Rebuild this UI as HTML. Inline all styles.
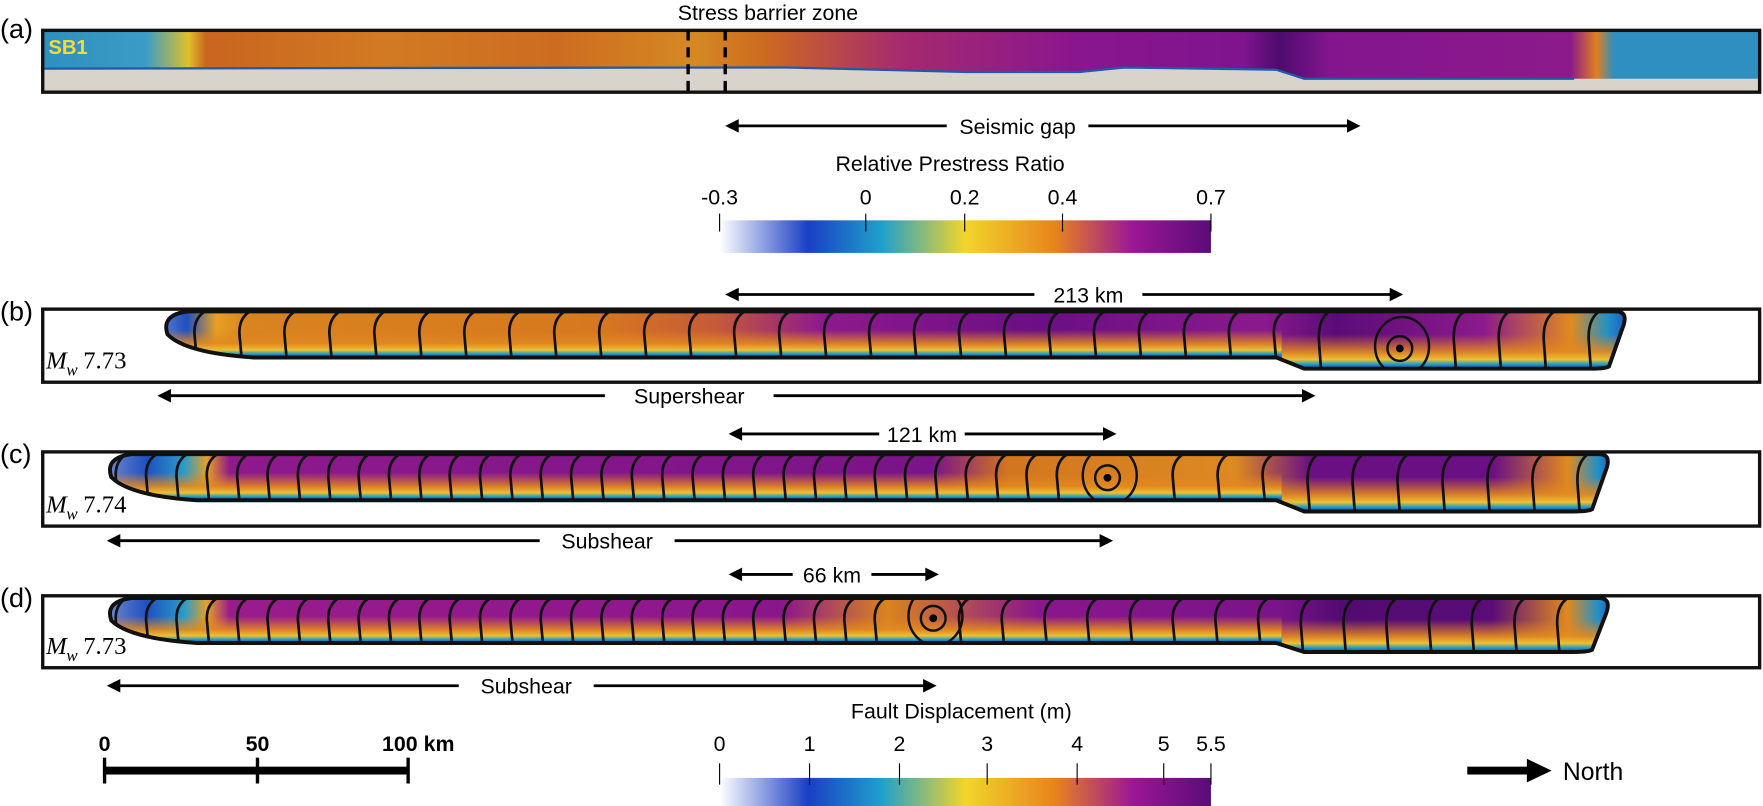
<!DOCTYPE html>
<html><head><meta charset="utf-8">
<style>
html,body{margin:0;padding:0;background:#fff;}
svg{display:block;}
text{font-family:"Liberation Sans",sans-serif;fill:#000;}
</style></head>
<body>
<svg id="s" width="1763" height="806" viewBox="0 0 1568 717" preserveAspectRatio="none" xmlns="http://www.w3.org/2000/svg">
<defs>
<linearGradient id="cbar" x1="0" x2="1" y1="0" y2="0">
<stop offset="0" stop-color="#ffffff"/>
<stop offset="0.18" stop-color="#1a3fc4"/>
<stop offset="0.33" stop-color="#1fa0cc"/>
<stop offset="0.5" stop-color="#f2d52a"/>
<stop offset="0.68" stop-color="#e8851c"/>
<stop offset="0.84" stop-color="#9c1795"/>
<stop offset="1" stop-color="#5a0c78"/>
</linearGradient>
<linearGradient id="ga" gradientUnits="userSpaceOnUse" x1="38" x2="1565" y1="0" y2="0">
<stop offset="0" stop-color="#2f8fbf"/>
<stop offset="0.06" stop-color="#3a9cc6"/>
<stop offset="0.085" stop-color="#e0c02a"/>
<stop offset="0.095" stop-color="#c9651f"/>
<stop offset="0.2" stop-color="#d27a22"/>
<stop offset="0.3" stop-color="#cd6c20"/>
<stop offset="0.38" stop-color="#d58922"/>
<stop offset="0.42" stop-color="#cd6a20"/>
<stop offset="0.5" stop-color="#a62a6e"/>
<stop offset="0.6" stop-color="#8a168e"/>
<stop offset="0.7" stop-color="#7f148f"/>
<stop offset="0.72" stop-color="#4e0b6e"/>
<stop offset="0.75" stop-color="#84158f"/>
<stop offset="0.89" stop-color="#8c1a8a"/>
<stop offset="0.905" stop-color="#e08020"/>
<stop offset="0.915" stop-color="#2f8fbf"/>
<stop offset="1" stop-color="#2f8fbf"/>
</linearGradient>
<linearGradient id="gb" gradientUnits="userSpaceOnUse" x1="140" x2="1450" y1="0" y2="0">
<stop offset="0" stop-color="#6a80d0"/>
<stop offset="0.02" stop-color="#1e50c0"/>
<stop offset="0.04" stop-color="#e8a024"/>
<stop offset="0.06" stop-color="#d8841f"/>
<stop offset="0.3" stop-color="#d6781f"/>
<stop offset="0.38" stop-color="#c45a3a"/>
<stop offset="0.45" stop-color="#8e1a8c"/>
<stop offset="0.6" stop-color="#6a0f84"/>
<stop offset="0.75" stop-color="#8a1a8c"/>
<stop offset="0.8" stop-color="#5a0c78"/>
<stop offset="0.9" stop-color="#8c1a8c"/>
<stop offset="0.96" stop-color="#e08a20"/>
<stop offset="0.985" stop-color="#2090c8"/>
<stop offset="1" stop-color="#2050c0"/>
</linearGradient>
<linearGradient id="gc" gradientUnits="userSpaceOnUse" x1="90" x2="1435" y1="0" y2="0">
<stop offset="0" stop-color="#8090d0"/>
<stop offset="0.03" stop-color="#1e50c0"/>
<stop offset="0.055" stop-color="#2a9cc8"/>
<stop offset="0.07" stop-color="#e8a024"/>
<stop offset="0.085" stop-color="#8e1a8c"/>
<stop offset="0.55" stop-color="#7a1488"/>
<stop offset="0.6" stop-color="#d2761f"/>
<stop offset="0.75" stop-color="#dc8a22"/>
<stop offset="0.8" stop-color="#6a0f84"/>
<stop offset="0.92" stop-color="#6a0f84"/>
<stop offset="0.97" stop-color="#e08a20"/>
<stop offset="0.99" stop-color="#2090c8"/>
<stop offset="1" stop-color="#2050c0"/>
</linearGradient>
<linearGradient id="gd" gradientUnits="userSpaceOnUse" x1="90" x2="1435" y1="0" y2="0">
<stop offset="0" stop-color="#8090d0"/>
<stop offset="0.03" stop-color="#1e50c0"/>
<stop offset="0.055" stop-color="#2a9cc8"/>
<stop offset="0.07" stop-color="#e8a024"/>
<stop offset="0.085" stop-color="#9a1c8c"/>
<stop offset="0.45" stop-color="#8a168c"/>
<stop offset="0.52" stop-color="#d8841f"/>
<stop offset="0.62" stop-color="#8a168c"/>
<stop offset="0.78" stop-color="#7a1488"/>
<stop offset="0.82" stop-color="#520b72"/>
<stop offset="0.92" stop-color="#5a0c78"/>
<stop offset="0.97" stop-color="#e08a20"/>
<stop offset="0.99" stop-color="#2090c8"/>
<stop offset="1" stop-color="#2050c0"/>
</linearGradient>
<linearGradient id="bot" x1="0" x2="0" y1="0" y2="1">
<stop offset="0" stop-color="#e08020" stop-opacity="0"/>
<stop offset="0.4" stop-color="#e08020" stop-opacity="0"/>
<stop offset="0.7" stop-color="#e28a20" stop-opacity="0.9"/>
<stop offset="0.84" stop-color="#f0c030"/>
<stop offset="0.92" stop-color="#20a0c8"/>
<stop offset="1" stop-color="#1a40b0"/>
</linearGradient>
</defs>
<g id="g"></g>
</svg>
<script>
var NS="http://www.w3.org/2000/svg",G=document.getElementById('g');
function el(t,a,txt,par){var e=document.createElementNS(NS,t);for(var k in a)e.setAttribute(k,a[k]);if(txt!==undefined&&txt!==null)e.textContent=txt;(par||G).appendChild(e);return e;}
function tx(x,y,s,size,anchor,extra){var a={x:x,y:y,'font-size':size||19,'text-anchor':anchor||'middle'};for(var k in extra)a[k]=extra[k];return el('text',a,s);}
function arrow(x1,x2,y,label,lx,gap){
  var hw=gap/2;
  el('line',{x1:x1+10,x2:lx-hw,y1:y,y2:y,stroke:'#000','stroke-width':2.5});
  el('line',{x1:lx+hw,x2:x2-10,y1:y,y2:y,stroke:'#000','stroke-width':2.5});
  el('polygon',{points:(x1)+','+y+' '+(x1+12)+','+(y-6)+' '+(x1+12)+','+(y+6)});
  el('polygon',{points:(x2)+','+y+' '+(x2-12)+','+(y-6)+' '+(x2-12)+','+(y+6)});
  tx(lx,y+7,label,19);
}
tx(0,34,'(a)',24,'start');
tx(683,18,'Stress barrier zone',19);
el('rect',{x:38,y:27,width:1527,height:55,fill:'#d8d4cc'});
el('path',{d:'M38,27 H1565 V70 H1400 L1160,70 L1135,62 L1000,60 L960,64 L860,64 L700,60 H38 Z',fill:'url(#ga)'});
el('path',{d:'M38,61 L700,60 860,64 960,64 1000,60 1135,62 1160,70 1400,70',fill:'none',stroke:'#1f5aa8','stroke-width':2});
el('rect',{x:38,y:27,width:1527,height:55,fill:'none',stroke:'#111','stroke-width':3});
el('line',{x1:612,x2:612,y1:27,y2:82,stroke:'#000','stroke-width':3,'stroke-dasharray':'9,6'});
el('line',{x1:645,x2:645,y1:27,y2:82,stroke:'#000','stroke-width':3,'stroke-dasharray':'9,6'});
tx(43,48,'SB1',18,'start',{style:'fill:#f0dc3a;font-weight:bold'});
arrow(645,1210,112,'Seismic gap',905,126);
tx(845,152,'Relative Prestress Ratio',19);
el('rect',{x:640,y:196,width:437,height:29,fill:'url(#cbar)'});
[[640,'-0.3'],[770,'0'],[858,'0.2'],[945,'0.4'],[1077,'0.7']].forEach(function(t){tx(t[0],182,t[1],19);el('line',{x1:t[0],x2:t[0],y1:190,y2:206,stroke:'#000','stroke-width':1});});
function panel(lab,by,bh,rx0,rx1,top,b1,b2,grad,ms,cl,hyp){
  tx(0,by+10,lab,24,'start');
  el('rect',{x:38,y:by,width:1527,height:bh,fill:'#fff',stroke:'#111','stroke-width':3});
  var d='M'+(rx0+22)+','+top+' H'+(rx1-8)+' Q'+(rx1+4)+','+top+' '+(rx1-2)+','+(top+15)+' L'+(rx1-14)+','+(b2-2)+' Q'+(rx1-18)+','+b2+' '+(rx1-30)+','+b2+' H1160 L1135,'+b1+' H'+(rx0+80)+' Q'+(rx0+20)+','+(b1-4)+' '+(rx0+4)+','+(top+(b1-top)*0.5)+' Q'+(rx0-2)+','+(top+3)+' '+(rx0+22)+','+top+' Z';
  el('path',{d:d,fill:grad});
  var cid='c'+lab.charCodeAt(1);
  var cp=el('clipPath',{id:cid});el('path',{d:d},null,cp);
  el('rect',{x:rx0,y:top,width:1140-rx0,height:b1-top,fill:'url(#bot)','clip-path':'url(#'+cid+')'});
  el('rect',{x:1140,y:top,width:rx1-1140,height:b2-top,fill:'url(#bot)','clip-path':'url(#'+cid+')'});
  var gg=el('g',{'clip-path':'url(#'+cid+')'});
  cl.forEach(function(x){if(Math.abs(x-hyp[0])<30)return;var b=x>1140?b2:b1;
    el('path',{d:'M'+(x+6)+','+(top-2)+' Q'+(x-8)+','+(top+4)+' '+(x-7)+','+((top+b)/2)+' L'+(x-5)+','+(b+2),fill:'none',stroke:'#111','stroke-width':2.4},null,gg);});
  el('circle',{cx:hyp[0],cy:hyp[1],r:11,fill:'none',stroke:'#111','stroke-width':2.2},null,gg);
  el('ellipse',{cx:hyp[0]+2,cy:hyp[1]-2,rx:24,ry:26,fill:'none',stroke:'#111','stroke-width':2.2},null,gg);
  el('circle',{cx:hyp[0],cy:hyp[1],r:3.5,fill:'#000'});
  el('path',{d:d,fill:'none',stroke:'#111','stroke-width':3.5});
  tx(41,by+bh-12,'M',22,'start',{style:'font-family:"Liberation Serif",serif;font-style:italic'});
  tx(59,by+bh-6,'w',15,'start',{style:'font-family:"Liberation Serif",serif;font-style:italic'});
  tx(74,by+bh-12,ms,22,'start',{style:'font-family:"Liberation Serif",serif'});
}
function seq(a,b,s){var r=[];for(var x=a;x<=b;x+=s)r.push(x);return r;}
panel('(b)',275,65,145,1445,277,318,328,'url(#gb)','7.73',seq(180,1430,40),[1245,310]);
arrow(645,1248,262,'213 km',968,96);
arrow(140,1170,352,'Supershear',613,150);
panel('(c)',402,66,95,1430,404,445,455,'url(#gc)','7.74',seq(110,960,27).concat(seq(1010,1420,40)),[985,425]);
arrow(648,993,386,'121 km',820,76);
arrow(95,990,481,'Subshear',540,120);
panel('(d)',530,64,95,1430,532,572,580,'url(#gd)','7.73',seq(110,800,27).concat(seq(860,1420,38)),[830,550]);
arrow(648,835,511,'66 km',740,70);
arrow(95,833,610,'Subshear',468,120);
tx(855,639,'Fault Displacement (m)',19);
el('rect',{x:640,y:692,width:437,height:25,fill:'url(#cbar)'});
[[640,'0'],[720,'1'],[800,'2'],[878,'3'],[958,'4'],[1035,'5'],[1077,'5.5']].forEach(function(t){tx(t[0],668,t[1],19);el('line',{x1:t[0],x2:t[0],y1:679,y2:698,stroke:'#000','stroke-width':1});});
tx(93,668,'0',19,'middle',{style:'font-weight:bold'});tx(229,668,'50',19,'middle',{style:'font-weight:bold'});tx(372,668,'100 km',19,'middle',{style:'font-weight:bold'});
el('rect',{x:93,y:682,width:270,height:7,fill:'#000'});
[93,229,363].forEach(function(x){el('line',{x1:x,x2:x,y1:674,y2:697,stroke:'#000','stroke-width':3});});
el('rect',{x:1305,y:682,width:55,height:7,fill:'#000'});
el('polygon',{points:'1358,675 1380,685.5 1358,696'});
tx(1390,694,'North',22,'start');
</script>
</body></html>
